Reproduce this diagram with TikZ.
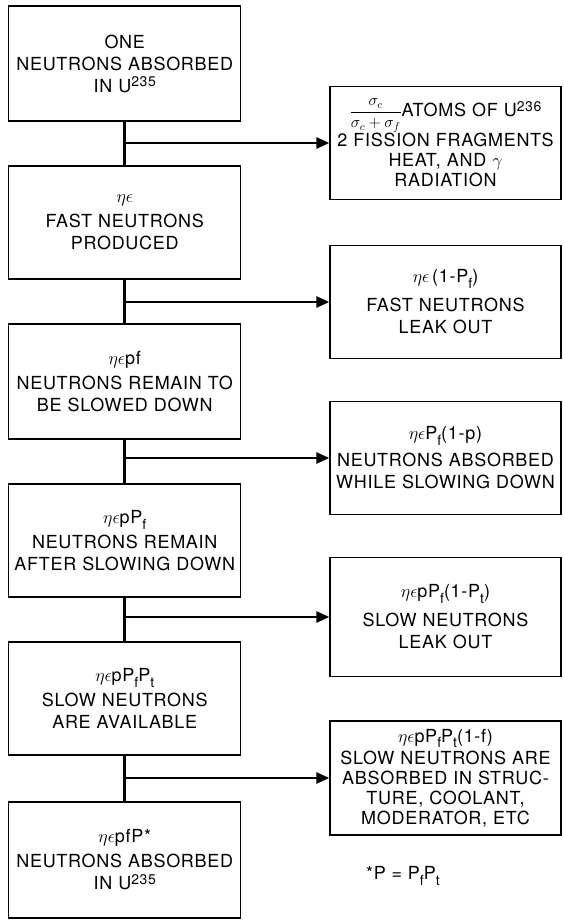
\RequirePackage{fix-cm}
\documentclass[tikz,border=0pt]{standalone}
\usepackage{fontspec}
\setmainfont{TeX Gyre Heros}[LetterSpace=4]
\usetikzlibrary{arrows.meta}
\newcommand\sps[1]{\raisebox{0.55ex}{\fontsize{14}{14}\selectfont #1}}
\newcommand\sbs[1]{\raisebox{-0.6ex}{\fontsize{14}{14}\selectfont #1}}
\newcommand\fml[1]{{\fontsize{18}{20}\selectfont #1}}
\begin{document}
\begin{tikzpicture}[x=1pt,y=-1pt,
  box/.style={draw,line width=1.3pt,inner sep=0pt,minimum width=232pt,text width=228pt,align=center,font=\fontsize{18}{22}\selectfont},
  rbox/.style={box,minimum width=231pt,text width=227pt},
  tight/.style={font=\fontsize{18}{20}\selectfont},
  link/.style={line width=2.8pt},
  arrowlink/.style={line width=2.6pt,-{Triangle[length=13pt,width=11pt]}}]
\useasboundingbox (0,0) rectangle (564,920);
% left column
\node[box,minimum height=115pt] (B1) at (124.75,63.5) {ONE\\NEUTRONS ABSORBED\\IN U\sps{235}};
\node[box,minimum height=113pt] (B2) at (124.75,222.5) {\fml{$\eta\epsilon$}\\[3pt]FAST NEUTRONS\\PRODUCED};
\node[box,minimum height=115pt] (B3) at (124.75,381.5) {\fml{$\eta\epsilon$pf}\\[3pt]NEUTRONS REMAIN TO\\BE SLOWED DOWN};
\node[box,minimum height=113pt] (B4) at (124.75,540.5) {\fml{$\eta\epsilon$pP\sbs{f}}\\[3pt]NEUTRONS REMAIN\\AFTER SLOWING DOWN};
\node[box,minimum height=113pt] (B5) at (124.75,698.5) {\fml{$\eta\epsilon$pP\sbs{f}P\sbs{t}}\\[3pt]SLOW NEUTRONS\\ARE AVAILABLE};
\node[box,minimum height=116pt] (B6) at (124.75,860) {\fml{$\eta\epsilon$pfP*}\\[3pt]NEUTRONS ABSORBED\\IN U\sps{235}};
% right column
\node[rbox,tight,minimum height=113pt] (R1) at (445.5,143) {{\fontsize{16}{18}\selectfont$\displaystyle\frac{\sigma_c}{\sigma_c+\sigma_f}$}ATOMS OF U\sps{236}\\2 FISSION FRAGMENTS\\HEAT, AND $\gamma$\\RADIATION};
\node[rbox,minimum height=113pt] (R2) at (445.5,302) {\fml{$\eta\epsilon$\,(1-P\sbs{f})}\\[7pt]FAST NEUTRONS\\LEAK OUT};
\node[rbox,minimum height=113pt] (R3) at (445.5,458) {\fml{$\eta\epsilon$P\sbs{f}(1-p)}\\[5pt]NEUTRONS ABSORBED\\WHILE SLOWING DOWN};
\node[rbox,minimum height=119pt] (R4) at (445.5,617) {\fml{$\eta\epsilon$pP\sbs{f}(1-P\sbs{t})}\\[7pt]SLOW NEUTRONS\\LEAK OUT};
\node[rbox,tight,minimum height=114pt] (R5) at (445.5,778) {\fml{$\eta\epsilon$pP\sbs{f}P\sbs{t}(1-f)}\\[2pt]SLOW NEUTRONS ARE\\ABSORBED IN STRUC-\\TURE, COOLANT,\\MODERATOR, ETC};
\node[anchor=west,inner sep=0pt,font=\fontsize{18}{22}\selectfont] (note) at (366,876) {*P = P\sbs{f}P\sbs{t}};
% connectors
\draw[link] (B1.south) -- (B2.north);
\draw[link] (B2.south) -- (B3.north);
\draw[link] (B3.south) -- (B4.north);
\draw[link] (B4.south) -- (B5.north);
\draw[link] (B5.south) -- (B6.north);
\draw[arrowlink] (R1.west -| B1.south) -- (R1.west);
\draw[arrowlink] (R2.west -| B1.south) -- (R2.west);
\draw[arrowlink] (R3.west -| B1.south) -- (R3.west);
\draw[arrowlink] (R4.west -| B1.south) -- (R4.west);
\draw[arrowlink] (R5.west -| B1.south) -- (R5.west);
\end{tikzpicture}
\end{document}
